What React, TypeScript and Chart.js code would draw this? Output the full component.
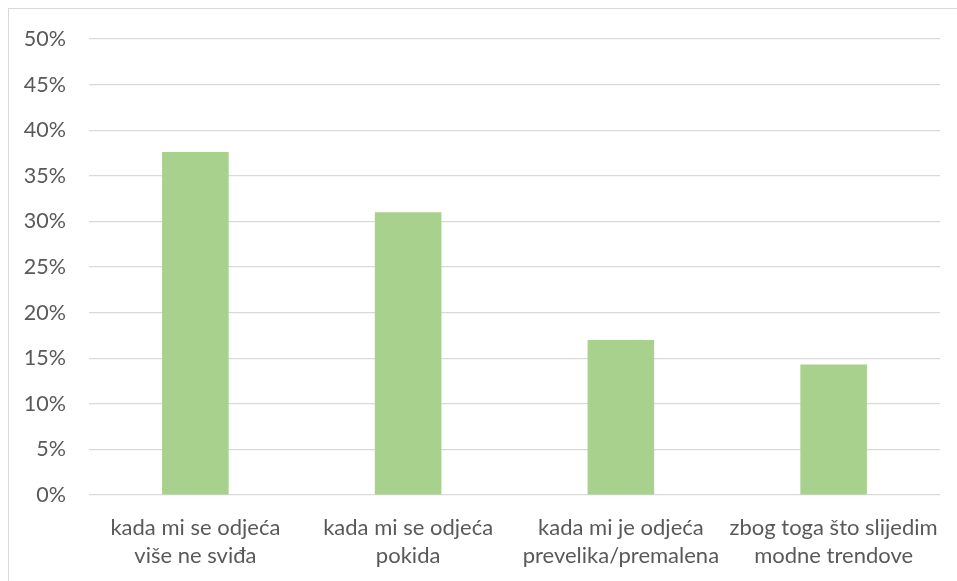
import React, { useEffect, useRef } from "react";
import { Chart, registerables } from "chart.js";

Chart.register(...registerables);

const categories: string[][] = [
  ["kada mi se odjeća", "više ne sviđa"],
  ["kada mi se odjeća", "pokida"],
  ["kada mi je odjeća", "prevelika/premalena"],
  ["zbog toga što slijedim", "modne trendove"],
];
const values: number[] = [37.6, 31.0, 17.0, 14.3];
const yMin = 0;
const yMax = 50;
const yStep = 5;

const FONT = "Lato, 'Open Sans', sans-serif";

export default function App() {
  const ref = useRef<HTMLCanvasElement | null>(null);

  useEffect(() => {
    if (!ref.current) return;
    const chart = new Chart(ref.current, {
      type: "bar",
      data: {
        labels: categories,
        datasets: [
          {
            data: values,
            backgroundColor: "#A9D18E",
            borderWidth: 0,
            categoryPercentage: 1,
            barPercentage: 0.313,
          },
        ],
      },
      options: {
        animation: false,
        responsive: false,
        maintainAspectRatio: false,
        layout: { padding: { left: 0, right: 17, top: 39, bottom: 0 } },
        plugins: {
          legend: { display: false },
          tooltip: { enabled: false },
        },
        scales: {
          x: {
            grid: { display: false, drawTicks: false },
            border: { display: false },
            ticks: {
              color: "#595959",
              font: { family: FONT, size: 22, lineHeight: 1.27 },
              padding: 19,
              maxRotation: 0,
              autoSkip: false,
            },
            afterFit: (s: any) => {
              s.height = 86;
              s.paddingLeft = 0;
              s.paddingRight = 0;
            },
          },
          y: {
            min: yMin,
            max: yMax,
            grid: { color: "#D9D9D9", lineWidth: 1.2, drawTicks: false },
            border: { display: false },
            ticks: {
              stepSize: yStep,
              color: "#595959",
              font: { family: FONT, size: 21.5 },
              padding: 23,
              callback: (v: any) => v + "%",
            },
            afterFit: (s: any) => {
              s.width = 89;
              s.paddingTop = 0;
              s.paddingBottom = 0;
            },
          },
        },
      },
    });
    return () => chart.destroy();
  }, []);

  return (
    <div
      style={{
        position: "fixed",
        left: 0,
        top: 0,
        width: 957,
        height: 581,
        background: "#fff",
      }}
    >
      <div
        style={{
          position: "absolute",
          left: 8,
          top: 8,
          width: 1000,
          height: 1000,
          border: "1.5px solid #D9D9D9",
          boxSizing: "border-box",
        }}
      />
      <canvas
        ref={ref}
        width={957}
        height={581}
        style={{ position: "absolute", left: 0, top: 0, width: 957, height: 581 }}
      />
    </div>
  );
}
